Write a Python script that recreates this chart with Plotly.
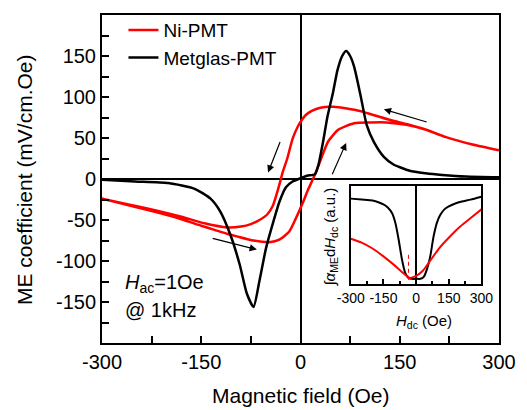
import plotly.graph_objects as go

# ---------------- data ----------------
# Ni-PMT, decreasing-field branch (H: +300 -> -300)
ni_down_h = [300, 260, 220, 190, 160, 140, 110, 90, 70, 50, 30, 17, 8, 2, -4, -12, -20, -27, -33, -42, -50, -62, -75, -90, -111, -145, -180, -220, -260, -300]
ni_down_v = [35, 42, 51, 60, 67, 71, 78, 83, 86, 88, 87, 83, 78, 72, 64, 49, 25, 8, -10, -33, -43, -50, -55, -58, -59, -54, -46, -38, -31, -24]
# Ni-PMT, increasing-field branch (H: -300 -> +300)
ni_up_h = [-300, -260, -220, -180, -150, -130, -110, -96, -71, -47, -32, -17, -7, 3, 12, 20, 28, 35, 42, 57, 81, 106, 130, 160, 190, 220, 260, 300]
ni_up_v = [-24, -32, -40, -49, -57, -62, -67, -70, -75, -77, -74, -64, -48, -30, -12, 2, 18, 33, 46, 60, 68, 69, 69, 66, 60, 51, 42, 35]

# Metglas-PMT
mg_h = [-300, -250, -200, -160, -136, -121, -106, -92, -81, -71, -62, -52, -41, -32, -22, -12, 0, 10, 22, 27, 34, 41, 49, 56, 63, 69, 75, 81, 91, 100, 111, 126, 140, 165, 189, 214, 250, 300]
mg_v = [-1, -3, -5, -12, -24, -40, -68, -104, -140, -156, -124, -84, -52, -28, -10, -3, 1, 4, 6, 17, 45, 77, 105, 133, 150, 156, 150, 137, 101, 66, 45, 27, 18, 10, 7, 5, 3, 2]

# Inset: integrated ME coefficient (a.u.)
in_mg_h = [-300, -250, -200, -170, -150, -130, -110, -95, -80, -65, -50, -35, -20, 0, 20, 35, 50, 65, 80, 95, 110, 130, 150, 180, 210, 250, 300]
in_mg_v = [0.87, 0.86, 0.85, 0.83, 0.81, 0.78, 0.72, 0.62, 0.45, 0.25, 0.11, 0.06, 0.05, 0.05, 0.05, 0.07, 0.15, 0.28, 0.48, 0.62, 0.70, 0.76, 0.79, 0.82, 0.84, 0.86, 0.89]
in_ni_h = [-300, -250, -200, -150, -100, -60, -30, 0, 30, 60, 105, 150, 200, 255, 300]
in_ni_v = [0.46, 0.42, 0.36, 0.28, 0.19, 0.11, 0.06, 0.08, 0.13, 0.22, 0.36, 0.47, 0.58, 0.68, 0.76]
in_mark_h = [-35, -35]
in_mark_v = [0.04, 0.30]

# Arrows (tail -> head, in data units)
arr_tail_h = [193, -30, 47, -135]
arr_tail_v = [69, 47, 4, -72]
arr_head_h = [126, -49, 69, -66]
arr_head_v = [85, 8, 44, -86]

x_ticks = [-300, -150, 0, 150, 300]
x_ticktext = ["-300", "-150", "0", "150", "300"]
y_ticks = [-150, -100, -50, 0, 50, 100, 150]
y_ticktext = ["-150", "-100", "-50", "0", "50", "100", "150"]

# ---------------- figure ----------------
W, H = 527, 410
L, R, T, B = 102, 18, 11, 67
pw, ph = W - L - R, H - T - B

def px(xp):
    return (xp - L) / pw

def py(yp):
    return (H - B - yp) / ph

FONT = "Liberation Sans, Arial, sans-serif"
RED = "#ff0000"

fig = go.Figure()
fig.add_trace(go.Scatter(x=ni_down_h + ni_up_h, y=ni_down_v + ni_up_v, mode="lines",
                         line=dict(color=RED, width=2.5, shape="spline", smoothing=0.6),
                         name="Ni-PMT"))
fig.add_trace(go.Scatter(x=mg_h, y=mg_v, mode="lines",
                         line=dict(color="black", width=2.5, shape="spline", smoothing=0.6),
                         name="Metglas-PMT"))
fig.add_trace(go.Scatter(x=in_mg_h, y=in_mg_v, mode="lines", xaxis="x2", yaxis="y2",
                         line=dict(color="black", width=2, shape="spline", smoothing=0.6),
                         showlegend=False))
fig.add_trace(go.Scatter(x=in_ni_h, y=in_ni_v, mode="lines", xaxis="x2", yaxis="y2",
                         line=dict(color=RED, width=2, shape="spline", smoothing=0.6),
                         showlegend=False))
fig.add_trace(go.Scatter(x=in_mark_h, y=in_mark_v, mode="lines", xaxis="x2", yaxis="y2",
                         line=dict(color=RED, width=1, dash="4px,3px"),
                         showlegend=False))

axis_common = dict(showline=True, linecolor="black", linewidth=2, mirror=True,
                   showgrid=False, zeroline=True, zerolinecolor="black", zerolinewidth=2,
                   ticks="inside", tickcolor="black", tickwidth=1.5, ticklen=7,
                   tickfont=dict(family=FONT, size=20, color="black"))

inset_x0, inset_x1, inset_y0, inset_y1 = 357, 491, 184, 283

fig.update_layout(
    width=W, height=H,
    margin=dict(l=L, r=R, t=T, b=B),
    paper_bgcolor="white", plot_bgcolor="white",
    font=dict(family=FONT, color="black"),
    xaxis=dict(range=[-300, 300], tickvals=x_ticks, ticktext=x_ticktext, tickangle=0,
               minor=dict(dtick=75, ticks="inside", ticklen=7, tickcolor="black", tickwidth=1.5),
               **axis_common),
    yaxis=dict(range=[-200, 200], tickvals=y_ticks, ticktext=y_ticktext,
               minor=dict(dtick=25, ticks="inside", ticklen=7, tickcolor="black", tickwidth=1.5),
               **axis_common),
    xaxis2=dict(domain=[px(inset_x0), px(inset_x1)], anchor="y2", range=[-300, 300],
                tickvals=x_ticks, ticktext=x_ticktext, tickangle=0,
                showline=True, linecolor="black", linewidth=2, mirror=True,
                showgrid=False, zeroline=True, zerolinecolor="black", zerolinewidth=2,
                ticks="inside", ticklen=5, tickcolor="black", tickwidth=1.5,
                minor=dict(dtick=75, ticks="inside", ticklen=3, tickcolor="black", tickwidth=1.5),
                tickfont=dict(family=FONT, size=14, color="black")),
    yaxis2=dict(domain=[py(inset_y1), py(inset_y0)], anchor="x2", range=[0, 1],
                showline=True, linecolor="black", linewidth=2, mirror=True,
                showgrid=False, zeroline=False, showticklabels=False, ticks=""),
    legend=dict(x=px(124), y=py(7), xanchor="left", yanchor="top",
                bgcolor="rgba(0,0,0,0)", font=dict(family=FONT, size=19, color="black"),
                itemwidth=30, tracegroupgap=0),
    showlegend=True,
)

ann = []
ann.append(dict(text="ME coefficient (mV/cm.Oe)", x=px(22), y=py(177), xref="paper", yref="paper",
                textangle=-90, showarrow=False, font=dict(size=21), xanchor="center", yanchor="middle"))
ann.append(dict(text="Magnetic field (Oe)", x=px(305), y=py(396), xref="paper", yref="paper",
                showarrow=False, font=dict(size=21), xanchor="center", yanchor="middle"))
ann.append(dict(text="<i>H</i><sub>ac</sub>=1Oe", x=px(124), y=py(283), xref="paper", yref="paper",
                showarrow=False, font=dict(size=20), xanchor="left", yanchor="middle"))
ann.append(dict(text="@ 1kHz", x=px(124), y=py(310), xref="paper", yref="paper",
                showarrow=False, font=dict(size=20), xanchor="left", yanchor="middle"))
ann.append(dict(text="\u222B<i>\u03B1</i><sub>ME</sub>d<i>H</i><sub>dc</sub> (a.u.)", x=px(336), y=py(236),
                xref="paper", yref="paper", textangle=-90, showarrow=False, font=dict(size=15),
                xanchor="center", yanchor="middle"))
ann.append(dict(text="<i>H</i><sub>dc</sub> (Oe)", x=px(432), y=py(321), xref="paper", yref="paper",
                showarrow=False, font=dict(size=15), xanchor="center", yanchor="middle"))
for th, tv, hh, hv in zip(arr_tail_h, arr_tail_v, arr_head_h, arr_head_v):
    ann.append(dict(x=hh, y=hv, ax=th, ay=tv, xref="x", yref="y", axref="x", ayref="y",
                    text="", showarrow=True, arrowhead=2, arrowsize=1.2, arrowwidth=1.2,
                    arrowcolor="black"))
fig.update_layout(annotations=ann)

fig.write_html("out.html")
